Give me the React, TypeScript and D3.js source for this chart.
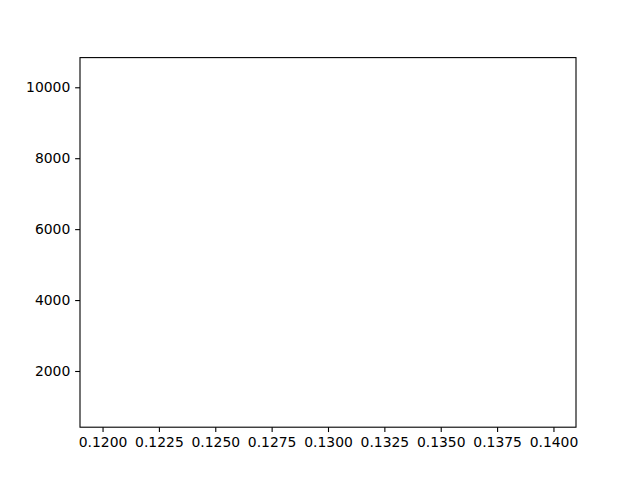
import { useEffect, useRef } from 'react';
import * as d3 from 'd3';

// axis limits and tick values (no data series plotted)
const xDomain = [0.119, 0.141];
const yDomain = [415, 10837];
const xTicks = [0.12, 0.1225, 0.125, 0.1275, 0.13, 0.1325, 0.135, 0.1375, 0.14];
const yTicks = [2000, 4000, 6000, 8000, 10000];
const seriesPoints: { x: number; y: number }[] = [];

export default function App() {
    const svgRef = useRef<SVGSVGElement>(null);
    const width = 640;
    const height = 480;

    useEffect(() => {
        if (!svgRef.current) return;
        const svg = d3.select(svgRef.current);
        svg.selectAll("*").remove();

        const margin = { top: 57.6, right: 64, bottom: 52.8, left: 80 };
        const w = width - margin.left - margin.right;
        const h = height - margin.top - margin.bottom;

        const x = d3.scaleLinear().domain(xDomain).range([0, w]);
        const y = d3.scaleLinear().domain(yDomain).range([h, 0]);

        svg.append("rect").attr("width", width).attr("height", height).attr("fill", "#fff");

        const g = svg.append("g").attr("transform", `translate(${margin.left},${margin.top})`);

        // pontos (vazio)
        g.selectAll(".pt")
            .data(seriesPoints)
            .enter()
            .append("circle")
            .attr("cx", d => x(d.x))
            .attr("cy", d => y(d.y))
            .attr("r", 3)
            .attr("fill", "#1f77b4");

        const font = "'DejaVu Sans', sans-serif";
        const tickLen = 4.86;
        const pad = 4.86;

        const xAxis = g.append("g")
            .attr("transform", `translate(0,${h})`)
            .call(d3.axisBottom(x).tickValues(xTicks).tickSize(tickLen).tickPadding(pad).tickFormat(d => (d as number).toFixed(4)));
        const yAxis = g.append("g")
            .call(d3.axisLeft(y).tickValues(yTicks).tickSize(tickLen).tickPadding(pad).tickFormat(d => String(d)));

        [xAxis, yAxis].forEach(a => {
            a.select(".domain").remove();
            a.selectAll("line").attr("stroke", "#000").attr("stroke-width", 1.1);
            a.selectAll("text")
                .attr("fill", "#000")
                .style("font-family", font)
                .style("font-size", "13.9px");
        });

        g.append("rect")
            .attr("width", w)
            .attr("height", h)
            .attr("fill", "none")
            .attr("stroke", "#000")
            .attr("stroke-width", 1.1);
    }, []);

    return (
        <svg
            ref={svgRef}
            width={width}
            height={height}
            style={{ position: "fixed", left: 0, top: 0, display: "block" }}
        />
    );
}
